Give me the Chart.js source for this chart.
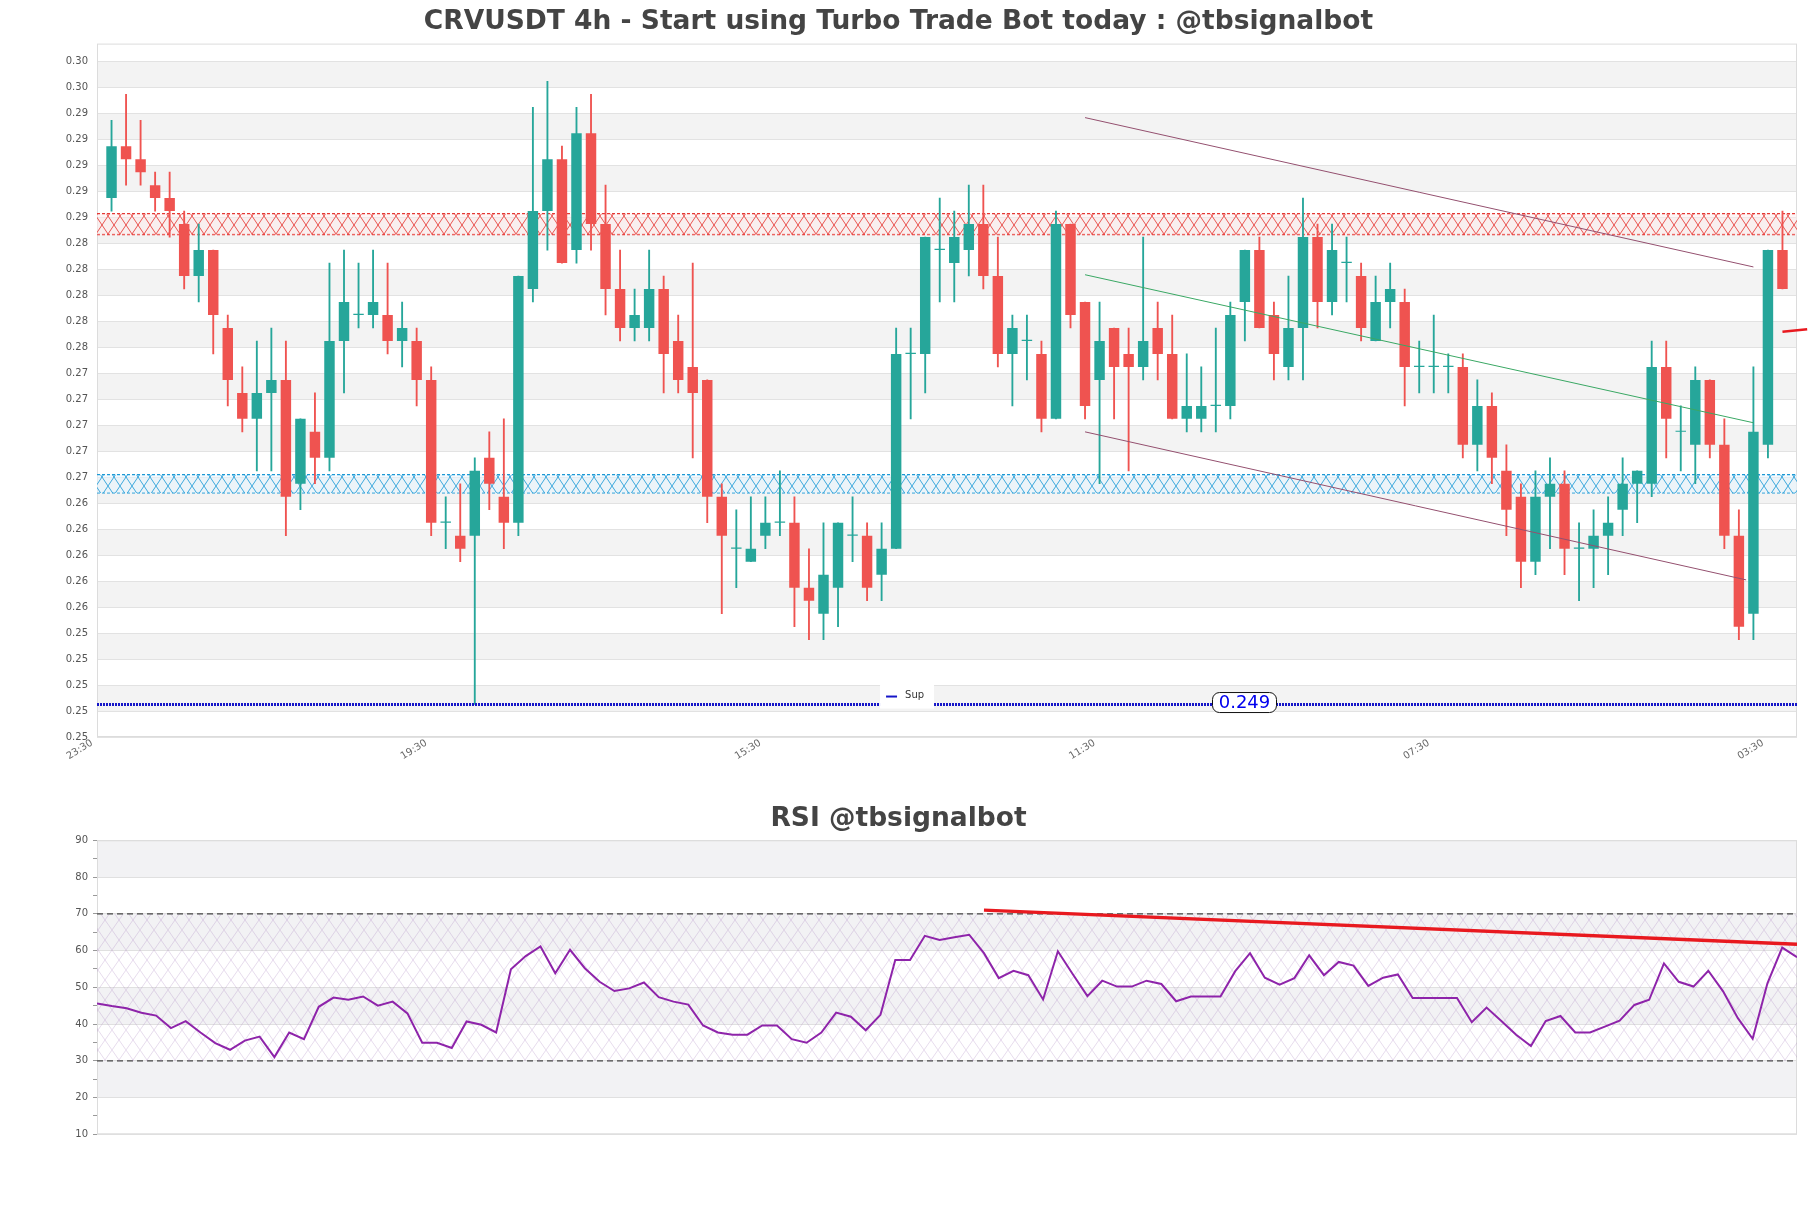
<!DOCTYPE html>
<html>
<head>
<meta charset="utf-8">
<title>CRVUSDT 4h</title>
<script src="https://cdn.jsdelivr.net/npm/chart.js@4.4.1/dist/chart.umd.min.js"></script>
<style>
  html, body { margin: 0; padding: 0; background: #fff; }
  #price-wrap { position: absolute; left: 0; top: 0; width: 1811px; height: 775px; }
  #rsi-wrap { position: absolute; left: 0; top: 790px; width: 1811px; height: 418px; }
</style>
</head>
<body>
<div id="price-wrap"><canvas id="price-chart"></canvas></div>
<div id="rsi-wrap"><canvas id="rsi-chart"></canvas></div>
<script>
// candles, 4h
const opens = [
  0.287, 0.291, 0.290, 0.288, 0.287, 0.285, 0.281, 0.283, 0.277, 0.272,
  0.270, 0.272, 0.273, 0.265, 0.269, 0.267, 0.276, 0.278, 0.278, 0.278,
  0.276, 0.276, 0.273, 0.262, 0.261, 0.261, 0.267, 0.264, 0.262, 0.280,
  0.286, 0.290, 0.283, 0.292, 0.285, 0.280, 0.277, 0.277, 0.280, 0.276,
  0.274, 0.273, 0.264, 0.260, 0.259, 0.261, 0.262, 0.262, 0.257, 0.255,
  0.257, 0.261, 0.261, 0.258, 0.260, 0.275, 0.275, 0.283, 0.282, 0.283,
  0.285, 0.281, 0.275, 0.276, 0.275, 0.270, 0.285, 0.279, 0.273, 0.277,
  0.275, 0.274, 0.277, 0.275, 0.270, 0.270, 0.271, 0.271, 0.279, 0.283,
  0.278, 0.274, 0.277, 0.284, 0.279, 0.282, 0.281, 0.276, 0.279, 0.279,
  0.274, 0.274, 0.274, 0.274, 0.268, 0.271, 0.266, 0.264, 0.259, 0.264,
  0.265, 0.260, 0.260, 0.261, 0.263, 0.265, 0.265, 0.274, 0.269, 0.268,
  0.273, 0.268, 0.261, 0.255, 0.268, 0.283
];
const highs = [
  0.293, 0.295, 0.293, 0.289, 0.289, 0.286, 0.285, 0.283, 0.278, 0.274,
  0.276, 0.277, 0.276, 0.270, 0.272, 0.282, 0.283, 0.282, 0.283, 0.282,
  0.279, 0.277, 0.274, 0.264, 0.265, 0.267, 0.269, 0.270, 0.281, 0.294,
  0.296, 0.291, 0.294, 0.295, 0.288, 0.283, 0.280, 0.283, 0.281, 0.278,
  0.282, 0.273, 0.265, 0.263, 0.264, 0.264, 0.266, 0.264, 0.260, 0.262,
  0.262, 0.264, 0.262, 0.262, 0.277, 0.277, 0.284, 0.287, 0.286, 0.288,
  0.288, 0.284, 0.278, 0.278, 0.276, 0.286, 0.285, 0.279, 0.279, 0.277,
  0.277, 0.284, 0.279, 0.278, 0.275, 0.274, 0.277, 0.279, 0.283, 0.284,
  0.279, 0.281, 0.287, 0.285, 0.285, 0.284, 0.282, 0.281, 0.282, 0.280,
  0.276, 0.278, 0.275, 0.275, 0.273, 0.272, 0.268, 0.265, 0.266, 0.267,
  0.266, 0.262, 0.263, 0.264, 0.267, 0.266, 0.276, 0.276, 0.271, 0.274,
  0.273, 0.270, 0.263, 0.274, 0.283, 0.286
];
const lows = [
  0.286, 0.288, 0.288, 0.286, 0.284, 0.280, 0.279, 0.275, 0.271, 0.269,
  0.266, 0.266, 0.261, 0.263, 0.265, 0.266, 0.272, 0.277, 0.277, 0.275,
  0.274, 0.271, 0.261, 0.260, 0.259, 0.248, 0.263, 0.260, 0.261, 0.279,
  0.283, 0.282, 0.282, 0.283, 0.278, 0.276, 0.276, 0.276, 0.272, 0.272,
  0.267, 0.262, 0.255, 0.257, 0.259, 0.260, 0.261, 0.254, 0.253, 0.253,
  0.254, 0.259, 0.256, 0.256, 0.260, 0.270, 0.272, 0.279, 0.279, 0.281,
  0.280, 0.274, 0.271, 0.273, 0.269, 0.270, 0.277, 0.270, 0.265, 0.270,
  0.266, 0.273, 0.273, 0.270, 0.269, 0.269, 0.269, 0.270, 0.276, 0.277,
  0.273, 0.273, 0.273, 0.277, 0.278, 0.279, 0.276, 0.276, 0.277, 0.271,
  0.272, 0.272, 0.272, 0.267, 0.266, 0.265, 0.261, 0.257, 0.258, 0.260,
  0.258, 0.256, 0.257, 0.258, 0.261, 0.262, 0.264, 0.267, 0.266, 0.265,
  0.267, 0.260, 0.253, 0.253, 0.267, 0.280
];
const closes = [
  0.291, 0.290, 0.289, 0.287, 0.286, 0.281, 0.283, 0.278, 0.273, 0.270,
  0.272, 0.273, 0.264, 0.270, 0.267, 0.276, 0.279, 0.278, 0.279, 0.276,
  0.277, 0.273, 0.262, 0.262, 0.260, 0.266, 0.265, 0.262, 0.281, 0.286,
  0.290, 0.282, 0.292, 0.285, 0.280, 0.277, 0.278, 0.280, 0.275, 0.273,
  0.272, 0.264, 0.261, 0.260, 0.260, 0.262, 0.262, 0.257, 0.256, 0.258,
  0.262, 0.261, 0.257, 0.260, 0.275, 0.275, 0.284, 0.283, 0.284, 0.285,
  0.281, 0.275, 0.277, 0.276, 0.270, 0.285, 0.278, 0.271, 0.276, 0.274,
  0.274, 0.276, 0.275, 0.270, 0.271, 0.271, 0.271, 0.278, 0.283, 0.277,
  0.275, 0.277, 0.284, 0.279, 0.283, 0.282, 0.277, 0.279, 0.280, 0.274,
  0.274, 0.274, 0.274, 0.268, 0.271, 0.267, 0.263, 0.259, 0.264, 0.265,
  0.260, 0.260, 0.261, 0.262, 0.265, 0.266, 0.274, 0.270, 0.269, 0.273,
  0.268, 0.261, 0.254, 0.269, 0.283, 0.280
];

const rsi = [
  45.6, 44.9, 44.3, 43.1, 42.3, 38.9, 40.8, 37.7, 34.8, 33.0,
  35.5, 36.6, 31.0, 37.7, 35.9, 44.7, 47.2, 46.6, 47.5, 45.0,
  46.1, 42.9, 34.9, 34.9, 33.5, 40.7, 39.8, 37.7, 54.9, 58.5,
  61.1, 53.8, 60.2, 55.2, 51.5, 49.0, 49.7, 51.3, 47.3, 46.1,
  45.3, 39.6, 37.7, 37.1, 37.1, 39.6, 39.6, 35.9, 34.9, 37.7,
  43.1, 42.0, 38.3, 42.5, 57.4, 57.4, 64.0, 62.9, 63.6, 64.3,
  59.3, 52.5, 54.5, 53.3, 46.7, 59.8, 53.6, 47.6, 51.8, 50.2,
  50.2, 51.8, 50.9, 46.2, 47.5, 47.5, 47.5, 54.4, 59.3, 52.6,
  50.7, 52.5, 58.7, 53.3, 56.9, 55.9, 50.4, 52.6, 53.5, 47.1,
  47.1, 47.1, 47.1, 40.5, 44.5, 40.8, 37.1, 34.0, 40.8, 42.2,
  37.7, 37.7, 39.3, 40.9, 45.2, 46.6, 56.5, 51.5, 50.2, 54.5,
  48.9, 41.6, 36.0, 51.1, 60.8, 58.2
];

const priceTicks = [
  0.2975, 0.2955, 0.2935, 0.2915, 0.2895, 0.2875, 0.2855, 0.2835, 0.2815,
  0.2795, 0.2775, 0.2755, 0.2735, 0.2715, 0.2695, 0.2675, 0.2655, 0.2635,
  0.2615, 0.2595, 0.2575, 0.2555, 0.2535, 0.2515, 0.2495, 0.2475, 0.2455
];
const rsiTicks = [90, 80, 70, 60, 50, 40, 30, 20, 10];
const timeLabels = ['23:30', '19:30', '15:30', '11:30', '07:30', '03:30'];
const timeLabelAt = [-1, 22, 45, 68, 91, 114];

const resistance = [0.2842, 0.2858];
const support = [0.2643, 0.2657];
const supLevel = 0.248;
const supText = '0.249';
// trend lines: [x0, y0, x1, y1]
const upperTrend = [67, 0.2932, 113, 0.2817];
const midTrend = [67, 0.2811, 113, 0.2697];
const lowerTrend = [67, 0.2690, 112.5, 0.2576];
const lastMark = [115, 0.2767, 116.7, 0.2769];
const rsiTrend = [60, 71.0, 115, 61.7];
const rsiBounds = [70, 30];

const UP = '#26a69a', DOWN = '#ef5350';
Chart.defaults.font.family = "'DejaVu Sans', sans-serif";
Chart.defaults.color = '#555';

function hatch(color, w, h, bg) {
  const c = document.createElement('canvas');
  c.width = w; c.height = h;
  const g = c.getContext('2d');
  if (bg) { g.fillStyle = bg; g.fillRect(0, 0, w, h); }
  g.strokeStyle = color;
  g.lineWidth = 1;
  g.beginPath();
  g.moveTo(0, 0); g.lineTo(w, h);
  g.moveTo(w, 0); g.lineTo(0, h);
  g.stroke();
  return g.createPattern(c, 'repeat');
}

function seg(t) {
  return [{x: t[0], y: t[1]}, {x: t[2], y: t[3]}];
}
function flat(v, x0, x1) {
  return [{x: x0, y: v}, {x: x1, y: v}];
}

const bandPlugin = {
  id: 'bands',
  beforeDraw(chart, args, opts) {
    const {ctx, chartArea: a} = chart;
    const y = chart.scales.y;
    ctx.save();
    ctx.fillStyle = opts.color;
    for (let k = 0; k < opts.values.length - 1; k += 2) {
      const y1 = y.getPixelForValue(opts.values[k]);
      const y2 = y.getPixelForValue(opts.values[k + 1]);
      ctx.fillRect(a.left, y1, a.width, y2 - y1);
    }
    ctx.restore();
  },
  beforeDatasetsDraw(chart) {
    const {ctx, chartArea: a} = chart;
    ctx.save();
    ctx.strokeStyle = '#dcdcdc';
    ctx.lineWidth = 1;
    ctx.strokeRect(a.left + 0.5, a.top + 0.5, a.width - 1, a.height - 1);
    ctx.restore();
  }
};

const supPlugin = {
  id: 'supLabel',
  afterDatasetsDraw(chart, args, opts) {
    const {ctx, chartArea: a} = chart;
    const yp = chart.scales.y.getPixelForValue(opts.value);
    ctx.save();
    // legend item
    const lx = a.left + a.width * 0.4765;
    ctx.fillStyle = '#fff';
    ctx.fillRect(lx - 27, yp - 20, 54, 24);
    ctx.strokeStyle = '#1515c8';
    ctx.lineWidth = 2;
    ctx.beginPath();
    ctx.moveTo(lx - 21, yp - 8); ctx.lineTo(lx - 10, yp - 8);
    ctx.stroke();
    ctx.fillStyle = '#333';
    ctx.font = "10px 'DejaVu Sans'";
    ctx.textBaseline = 'middle';
    ctx.textAlign = 'left';
    ctx.fillText('Sup', lx - 2, yp - 9);
    // value tag
    const cx = a.left + a.width * 0.675;
    const w = 64, h = 20, r = 7;
    const x0 = cx - w / 2, y0 = yp - 12;
    ctx.beginPath();
    ctx.moveTo(x0 + r, y0);
    ctx.arcTo(x0 + w, y0, x0 + w, y0 + h, r);
    ctx.arcTo(x0 + w, y0 + h, x0, y0 + h, r);
    ctx.arcTo(x0, y0 + h, x0, y0, r);
    ctx.arcTo(x0, y0, x0 + w, y0, r);
    ctx.closePath();
    ctx.fillStyle = '#fff';
    ctx.fill();
    ctx.strokeStyle = '#111';
    ctx.lineWidth = 1;
    ctx.stroke();
    ctx.fillStyle = '#0000ee';
    ctx.font = "18px 'DejaVu Sans'";
    ctx.textAlign = 'center';
    ctx.fillText(opts.text, cx, y0 + h / 2 + 1);
    ctx.restore();
  }
};

const candleColors = opens.map((o, i) => closes[i] >= o ? UP : DOWN);
const xMin = -1, xMax = 116;

new Chart(document.getElementById('price-chart'), {
  type: 'bar',
  data: {
    datasets: [
      {
        label: 'wick',
        data: lows.map((l, i) => ({x: i, y: [l, highs[i]]})),
        backgroundColor: candleColors,
        barThickness: 1.2,
        grouped: false,
        order: 3
      },
      {
        label: 'body',
        data: opens.map((o, i) => ({x: i, y: [o, closes[i]]})),
        backgroundColor: candleColors,
        barPercentage: 0.9,
        categoryPercentage: 0.8,
        minBarLength: 1.2,
        grouped: false,
        order: 2
      },
      {
        type: 'line', label: 'res top',
        data: flat(resistance[1], xMin, xMax),
        borderColor: '#e53935', borderWidth: 1.3, borderDash: [3, 2],
        pointRadius: 0, fill: '+1',
        backgroundColor: hatch('rgba(229,57,53,0.85)', 12, 18, 'rgba(255,235,235,0.5)'),
        order: 6
      },
      {
        type: 'line', label: 'res bottom',
        data: flat(resistance[0], xMin, xMax),
        borderColor: '#e53935', borderWidth: 1.3, borderDash: [3, 2],
        pointRadius: 0, fill: false, order: 6
      },
      {
        type: 'line', label: 'sup top',
        data: flat(support[1], xMin, xMax),
        borderColor: '#1e9ad6', borderWidth: 1.3, borderDash: [3, 2],
        pointRadius: 0, fill: '+1',
        backgroundColor: hatch('rgba(30,154,214,0.85)', 12, 18, 'rgba(230,245,255,0.5)'),
        order: 6
      },
      {
        type: 'line', label: 'sup bottom',
        data: flat(support[0], xMin, xMax),
        borderColor: '#1e9ad6', borderWidth: 1.3, borderDash: [3, 2],
        pointRadius: 0, fill: false, order: 6
      },
      {
        type: 'line', label: 'Sup',
        data: flat(supLevel, xMin, xMax),
        borderColor: '#1515c8', borderWidth: 3, borderDash: [2, 1],
        pointRadius: 0, fill: false, order: 1
      },
      {
        type: 'line', label: 'upper',
        data: seg(upperTrend),
        borderColor: '#94506f', borderWidth: 1, pointRadius: 0, fill: false, order: 0
      },
      {
        type: 'line', label: 'mid',
        data: seg(midTrend),
        borderColor: '#3aa864', borderWidth: 1, pointRadius: 0, fill: false, order: 0
      },
      {
        type: 'line', label: 'lower',
        data: seg(lowerTrend),
        borderColor: '#94506f', borderWidth: 1, pointRadius: 0, fill: false, order: 0
      },
      {
        type: 'line', label: 'last',
        data: seg(lastMark),
        borderColor: '#e8191f', borderWidth: 2.5, pointRadius: 0, fill: false,
        clip: false, order: 0
      }
    ]
  },
  options: {
    responsive: true,
    maintainAspectRatio: false,
    animation: false,
    layout: { padding: { left: 0, right: 14, top: 0, bottom: 0 } },
    plugins: {
      legend: { display: false },
      tooltip: { enabled: false },
      title: {
        display: true,
        text: 'CRVUSDT 4h - Start using Turbo Trade Bot today : @tbsignalbot',
        color: '#444',
        font: { size: 26.5, weight: 'bold' },
        padding: { top: 6, bottom: 5.8 }
      },
      bands: { values: priceTicks, color: '#f3f3f3' },
      supLabel: { value: supLevel, text: supText }
    },
    scales: {
      x: {
        type: 'linear',
        min: xMin,
        max: xMax,
        offset: false,
        grid: { display: false },
        border: { display: false },
        afterBuildTicks: s => { s.ticks = timeLabelAt.map(v => ({value: v})); },
        afterFit: s => { s.height = 38; },
        ticks: {
          autoSkip: false,
          minRotation: 32,
          maxRotation: 32,
          padding: -8,
          labelOffset: -5,
          color: '#666',
          font: { size: 10 },
          callback: (v, i) => timeLabels[i]
        }
      },
      y: {
        min: 0.2455,
        max: 0.2989,
        afterBuildTicks: s => { s.ticks = priceTicks.map(v => ({value: v})); },
        afterFit: s => { s.width = 97; },
        grid: { color: '#e2e2e2', drawTicks: false },
        border: { display: false },
        ticks: { padding: 9, font: { size: 10 }, callback: v => v.toFixed(2) }
      }
    }
  },
  plugins: [bandPlugin, supPlugin]
});

new Chart(document.getElementById('rsi-chart'), {
  type: 'line',
  data: {
    datasets: [
      {
        label: 'RSI',
        data: rsi.map((v, i) => ({x: i, y: v})),
        borderColor: '#8e24aa', borderWidth: 2, pointRadius: 0, fill: false, order: 1
      },
      {
        label: 'trend',
        data: seg(rsiTrend),
        borderColor: '#e8191f', borderWidth: 3.5, pointRadius: 0, fill: false, order: 0
      },
      {
        label: 'overbought',
        data: flat(rsiBounds[0], 0, rsi.length - 1),
        borderColor: '#444', borderWidth: 1.3, borderDash: [6, 4],
        pointRadius: 0, fill: '+1',
        backgroundColor: hatch('rgba(170,130,190,0.28)', 14, 20, null),
        order: 2
      },
      {
        label: 'oversold',
        data: flat(rsiBounds[1], 0, rsi.length - 1),
        borderColor: '#444', borderWidth: 1.3, borderDash: [6, 4],
        pointRadius: 0, fill: false, order: 2
      }
    ]
  },
  options: {
    responsive: true,
    maintainAspectRatio: false,
    animation: false,
    layout: { padding: { left: 0, right: 14, top: 0, bottom: 0 } },
    plugins: {
      legend: { display: false },
      tooltip: { enabled: false },
      title: {
        display: true,
        text: 'RSI @tbsignalbot',
        color: '#444',
        font: { size: 26.5, weight: 'bold' },
        padding: { top: 13.1, bottom: 5.4 }
      },
      bands: { values: rsiTicks, color: '#f2f2f4' }
    },
    scales: {
      x: {
        type: 'linear',
        min: 0,
        max: rsi.length - 1,
        grid: { display: false },
        border: { display: false },
        ticks: { display: false },
        afterFit: s => { s.height = 73.7; }
      },
      y: {
        min: 10,
        max: 90,
        afterFit: s => { s.width = 97; },
        grid: {
          color: c => (c.tick && c.tick.value % 10 === 0) ? '#e0e0e0' : 'rgba(0,0,0,0)',
          tickColor: '#999',
          tickLength: 4
        },
        border: { display: false },
        ticks: {
          stepSize: 5,
          padding: 5,
          font: { size: 10 },
          callback: v => (v % 10 === 0 ? v : '')
        }
      }
    }
  },
  plugins: [bandPlugin]
});
</script>
</body>
</html>
